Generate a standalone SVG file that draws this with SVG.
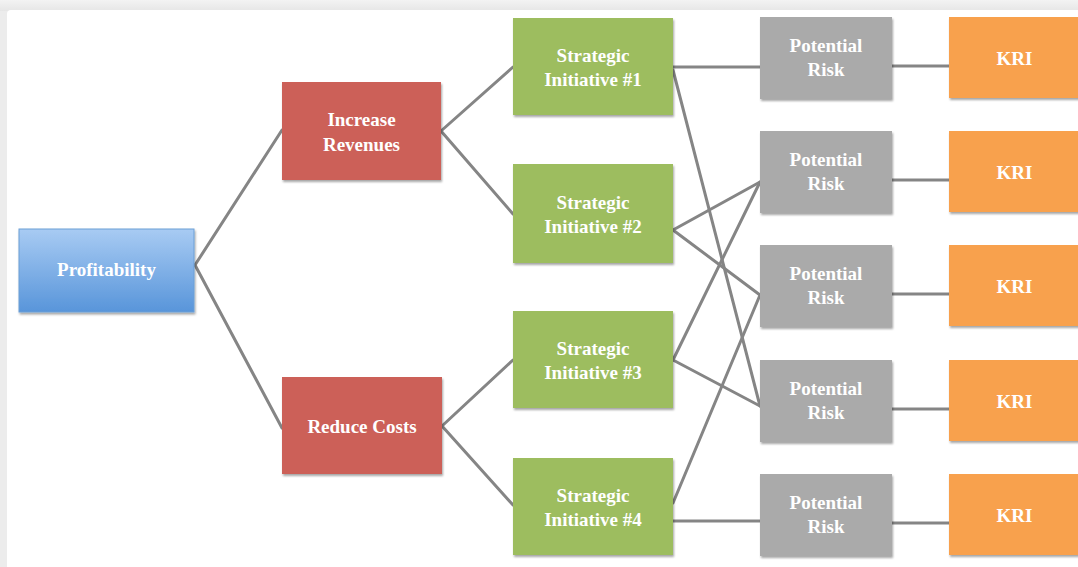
<svg xmlns="http://www.w3.org/2000/svg" width="1078" height="567" viewBox="0 0 1078 567">
  <defs>
    <linearGradient id="blueFill" x1="0" y1="0" x2="0" y2="1">
      <stop offset="0" stop-color="#a8cbf3"/>
      <stop offset="1" stop-color="#5895da"/>
    </linearGradient>
    <linearGradient id="topBand" x1="0" y1="0" x2="0" y2="1">
      <stop offset="0" stop-color="#f3f3f3"/>
      <stop offset="1" stop-color="#e6e6e6"/>
    </linearGradient>
    <filter id="shadow" x="-10%" y="-10%" width="120%" height="130%">
      <feDropShadow dx="1" dy="2" stdDeviation="1.2" flood-color="#000" flood-opacity="0.35"/>
    </filter>
  </defs>
  <style>
    .box { filter: url(#shadow); }
    .blue { fill: url(#blueFill); stroke: #6d9fd6; stroke-width: 1; }
    .red { fill: #cc6058; }
    .green { fill: #9dbd5e; }
    .grey { fill: #aaaaaa; }
    .orange { fill: #f8a14e; }
    .label { font-family: "Liberation Serif", "Times New Roman", serif; font-weight: bold; font-size: 19px; fill: #ffffff; text-anchor: middle; }
    .edge { stroke: #858585; stroke-width: 3; fill: none; stroke-linecap: round; }
  </style>

  <!-- page frame -->
  <rect x="0" y="0" width="1078" height="567" fill="#ececec"/>
  <rect x="0" y="0" width="1078" height="11" fill="url(#topBand)"/>
  <rect x="7" y="10" width="1080" height="570" rx="4" fill="#ffffff"/>

  <!-- connectors -->
  <g id="connectors">
    <line class="edge" x1="195" y1="265" x2="282" y2="130"/>
    <line class="edge" x1="195" y1="265" x2="282" y2="428"/>
    <line class="edge" x1="441" y1="131" x2="513" y2="67"/>
    <line class="edge" x1="441" y1="131" x2="513" y2="214"/>
    <line class="edge" x1="442" y1="426" x2="513" y2="360"/>
    <line class="edge" x1="442" y1="426" x2="513" y2="505"/>
    <line class="edge" x1="673" y1="67" x2="760" y2="67"/>
    <line class="edge" x1="673" y1="70" x2="760" y2="406"/>
    <line class="edge" x1="673" y1="230" x2="760" y2="182"/>
    <line class="edge" x1="673" y1="230" x2="760" y2="295"/>
    <line class="edge" x1="673" y1="360" x2="760" y2="182"/>
    <line class="edge" x1="673" y1="360" x2="760" y2="406"/>
    <line class="edge" x1="673" y1="503" x2="760" y2="295"/>
    <line class="edge" x1="673" y1="521" x2="760" y2="521"/>
    <line class="edge" x1="892" y1="66" x2="949" y2="66"/>
    <line class="edge" x1="892" y1="180" x2="949" y2="180"/>
    <line class="edge" x1="892" y1="294" x2="949" y2="294"/>
    <line class="edge" x1="892" y1="409" x2="949" y2="409"/>
    <line class="edge" x1="892" y1="523" x2="949" y2="523"/>
  </g>

  <!-- level 0 -->
  <g id="profitability">
    <rect class="box blue" x="19" y="229" width="175" height="83"/>
    <text class="label" x="106.5" y="276">Profitability</text>
  </g>

  <!-- level 1 -->
  <g id="increase-revenues">
    <rect class="box red" x="282" y="82" width="159" height="98"/>
    <text class="label" x="361.5" y="126">Increase</text>
    <text class="label" x="361.5" y="151">Revenues</text>
  </g>
  <g id="reduce-costs">
    <rect class="box red" x="282" y="377" width="160" height="97"/>
    <text class="label" x="362" y="433">Reduce Costs</text>
  </g>

  <!-- level 2 -->
  <g id="initiative-1">
    <rect class="box green" x="513" y="18" width="160" height="97"/>
    <text class="label" x="593" y="62">Strategic</text>
    <text class="label" x="593" y="86">Initiative #1</text>
  </g>
  <g id="initiative-2">
    <rect class="box green" x="513" y="164" width="160" height="99"/>
    <text class="label" x="593" y="209">Strategic</text>
    <text class="label" x="593" y="233">Initiative #2</text>
  </g>
  <g id="initiative-3">
    <rect class="box green" x="513" y="311" width="160" height="97"/>
    <text class="label" x="593" y="355">Strategic</text>
    <text class="label" x="593" y="379">Initiative #3</text>
  </g>
  <g id="initiative-4">
    <rect class="box green" x="513" y="458" width="160" height="97"/>
    <text class="label" x="593" y="502">Strategic</text>
    <text class="label" x="593" y="526">Initiative #4</text>
  </g>

  <!-- level 3 -->
  <g id="risk-1">
    <rect class="box grey" x="760" y="17" width="132" height="82"/>
    <text class="label" x="826" y="52">Potential</text>
    <text class="label" x="826" y="76">Risk</text>
  </g>
  <g id="risk-2">
    <rect class="box grey" x="760" y="131" width="132" height="82"/>
    <text class="label" x="826" y="166">Potential</text>
    <text class="label" x="826" y="190">Risk</text>
  </g>
  <g id="risk-3">
    <rect class="box grey" x="760" y="245" width="132" height="82"/>
    <text class="label" x="826" y="280">Potential</text>
    <text class="label" x="826" y="304">Risk</text>
  </g>
  <g id="risk-4">
    <rect class="box grey" x="760" y="360" width="132" height="82"/>
    <text class="label" x="826" y="395">Potential</text>
    <text class="label" x="826" y="419">Risk</text>
  </g>
  <g id="risk-5">
    <rect class="box grey" x="760" y="474" width="132" height="82"/>
    <text class="label" x="826" y="509">Potential</text>
    <text class="label" x="826" y="533">Risk</text>
  </g>

  <!-- level 4 -->
  <g id="kri-1">
    <rect class="box orange" x="949" y="17" width="135" height="81"/>
    <text class="label" x="1014.5" y="65">KRI</text>
  </g>
  <g id="kri-2">
    <rect class="box orange" x="949" y="131" width="135" height="81"/>
    <text class="label" x="1014.5" y="179">KRI</text>
  </g>
  <g id="kri-3">
    <rect class="box orange" x="949" y="245" width="135" height="81"/>
    <text class="label" x="1014.5" y="293">KRI</text>
  </g>
  <g id="kri-4">
    <rect class="box orange" x="949" y="360" width="135" height="81"/>
    <text class="label" x="1014.5" y="408">KRI</text>
  </g>
  <g id="kri-5">
    <rect class="box orange" x="949" y="474" width="135" height="81"/>
    <text class="label" x="1014.5" y="522">KRI</text>
  </g>
</svg>
